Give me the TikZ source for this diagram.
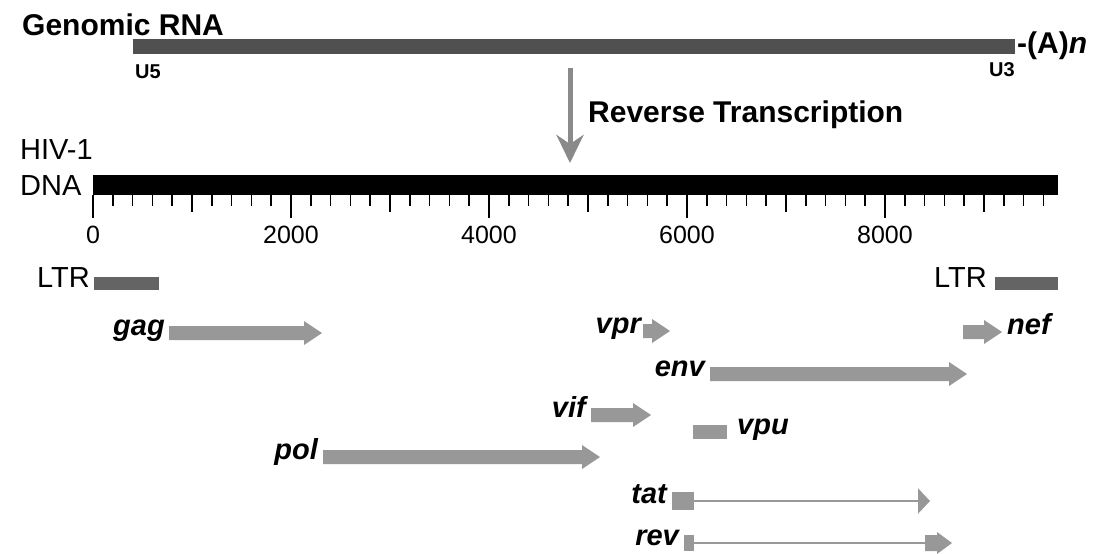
\documentclass[tikz,border=0pt]{standalone}
\usepackage{fontspec}
\setmainfont{Liberation Sans}
\usetikzlibrary{arrows.meta, positioning}
\definecolor{rnagray}{RGB}{80,80,80}
\definecolor{ltrgray}{RGB}{100,100,100}
\definecolor{genegray}{RGB}{152,152,152}
\definecolor{rtgray}{RGB}{138,138,138}
\newcommand\genearrow[4]{\fill[genegray] (#2,#4-7) -- (#3-18,#4-7) -- (#3-18,#4-12) -- (#3,#4) -- (#3-18,#4+12) -- (#3-18,#4+7) -- (#2,#4+7) -- cycle;
\coordinate (#1s) at (#2,#4); \coordinate (#1t) at (#3,#4);}

\begin{document}
\begin{tikzpicture}[x=1pt, y=-1pt,
  bar/.style={inner sep=0pt, outer sep=0pt, anchor=north west},
  title/.style={font=\bfseries\fontsize{30}{35}\selectfont, inner sep=0pt},
  plain/.style={font=\fontsize{29}{34}\selectfont, inner sep=0pt},
  endlabel/.style={font=\bfseries\fontsize{20}{24}\selectfont, inner sep=0pt},
  ticklabel/.style={font=\fontsize{25}{28}\selectfont, inner sep=0pt, anchor=base},
  genename/.style={font=\bfseries\itshape\fontsize{29}{34}\selectfont, inner sep=0pt, text height=.62em, text depth=.1em},
  ltrlabel/.style={plain, text height=.72em, text depth=0pt}]
\useasboundingbox (0,0) rectangle (1093,554);

\node[bar, fill=rnagray, minimum width=882pt, minimum height=15pt] (rna) at (133,39) {};
\node[bar, fill=black, minimum width=965pt, minimum height=20pt] (dna) at (93,175) {};

\node[title, anchor=base west] (grna) at (22,35) {Genomic RNA};
\node[endlabel, anchor=base west] (u5) at (135,78) {U5};
\node[endlabel, anchor=base east] (u3) at (1015,76) {U3};
\node[title, anchor=base west] (polyA) at (1017,53) {-(A)\textit{n}};

\coordinate (rtS) at (570,68);
\draw[rtgray, line width=5pt, shorten >=12pt, -{Stealth[length=28pt, width=27pt, inset=9pt]}] (rtS) -- (rtS |- dna.north);
\node[title, anchor=base west] (rtlabel) at (588,122) {Reverse Transcription};

\node[plain, anchor=base west] (hiv) at (20,159) {HIV-1};
\node[plain, anchor=base west] (dnalabel) at (20,195) {DNA};

\foreach \i in {0,200,...,9600} \draw[line width=1.5pt] (93+0.099*\i,195) -- ++(0,11);
\foreach \i in {1000,3000,...,9000} \draw[line width=1.5pt] (93+0.099*\i,195) -- ++(0,17);
\foreach \i in {0,2000,...,8000} {\draw[line width=1.5pt] (93+0.099*\i,195) -- ++(0,23);
  \node[ticklabel] (t\i) at (93+0.099*\i,243) {\i};}

\node[bar, fill=ltrgray, minimum width=65pt, minimum height=13pt] (ltrL) at (94,277) {};
\node[bar, fill=ltrgray, minimum width=63pt, minimum height=13pt] (ltrR) at (995,277) {};
\node[ltrlabel, left=4pt of ltrL] (ltrLlabel) {LTR};
\node[ltrlabel, left=8pt of ltrR] (ltrRlabel) {LTR};

\genearrow{gag}{169}{322}{333}
\genearrow{vpr}{643}{670}{331}
\genearrow{nef}{963}{1002}{332}
\genearrow{env}{710}{967}{374}
\genearrow{vif}{591}{651}{415}
\genearrow{pol}{323}{600}{457}
\node[genename, left=4pt of gags] (gag) {gag};
\node[genename, left=2pt of vprs] (vpr) {vpr};
\node[genename, right=5pt of neft] (nef) {nef};
\node[genename, left=5pt of envs] (env) {env};
\node[genename, left=5pt of vifs] (vif) {vif};
\node[genename, left=5pt of pols] (pol) {pol};

\node[bar, fill=genegray, minimum width=34pt, minimum height=14pt] (vpuB) at (693,425) {};
\node[genename, right=10pt of vpuB] (vpu) {vpu};

\node[bar, fill=genegray, minimum width=22pt, minimum height=18pt] (tatB) at (672,492) {};
\coordinate (tatE) at (930,501);
\draw[genegray, line width=2.5pt, -{Triangle[length=12pt, width=25pt]}] (tatB.east) -- (tatE);
\node[genename, left=5pt of tatB] (tat) {tat};

\node[bar, fill=genegray, minimum width=10pt, minimum height=16pt] (revB) at (684,535) {};
\coordinate (revH) at (925,543);
\draw[genegray, line width=2.5pt] (revB.east) -- (revH);
\fill[genegray] (revH) ++(0,-8) -- ++(12,0) -- ++(0,-3) -- ++(15,11) -- ++(-15,11) -- ++(0,-3) -- ++(-12,0) -- cycle;
\node[genename, left=5pt of revB] (rev) {rev};
\end{tikzpicture}
\end{document}
